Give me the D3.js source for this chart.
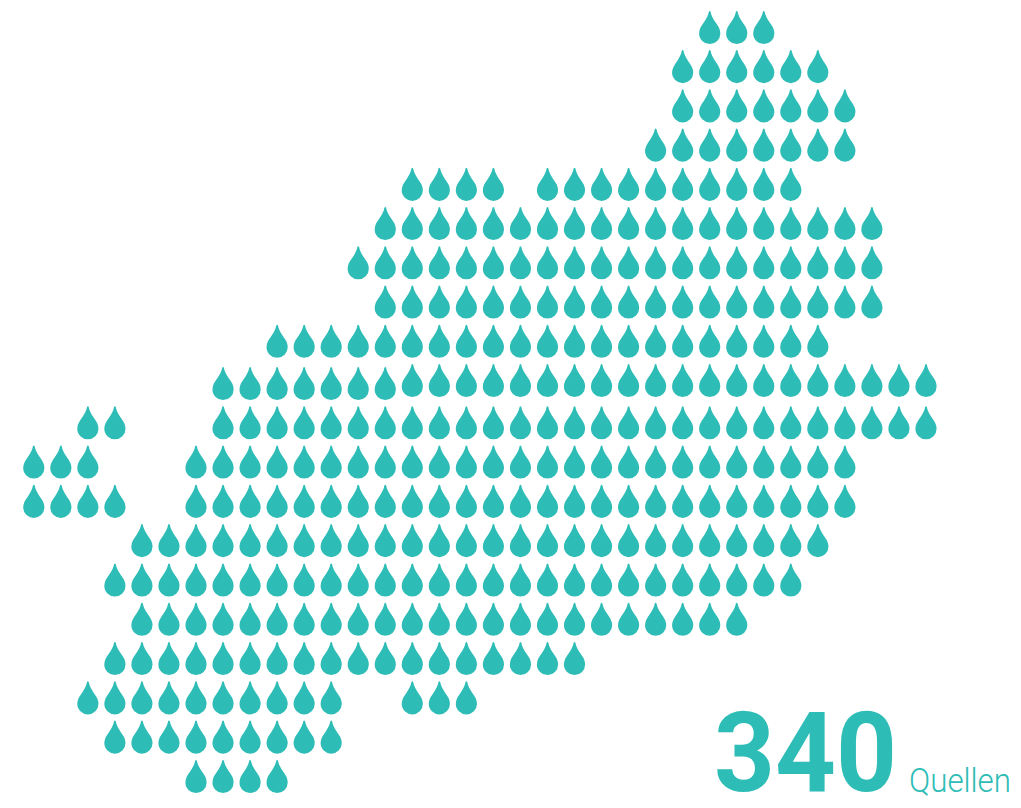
<!DOCTYPE html>
<html>
<head>
<meta charset="utf-8">
<script src="https://cdn.jsdelivr.net/npm/d3@7"></script>
<style>
html, body { margin: 0; padding: 0; background: #fff; }
svg { display: block; }
</style>
</head>
<body>
<svg id="chart" width="1021" height="808"></svg>
<script>
// Each run is one stretch of drops: [row, first column, last column]
const upperRuns = [
    [0, 25, 27],
    [1, 24, 29],
    [2, 24, 30],
    [3, 23, 30],
    [4, 14, 17], [4, 19, 28],
    [5, 13, 31],
    [6, 12, 31],
    [7, 13, 31],
    [8, 9, 29],
    [9, 14, 33]
];

// The lower part of the map sits a little further down than the upper part
const lowerRuns = [
    [9, 7, 13],
    [10, 2, 3], [10, 7, 33],
    [11, 0, 2], [11, 6, 30],
    [12, 0, 3], [12, 6, 30],
    [13, 4, 29],
    [14, 3, 28],
    [15, 4, 26],
    [16, 3, 20],
    [17, 2, 11], [17, 14, 16],
    [18, 3, 11],
    [19, 6, 9]
];

const totalValue = "340";
const totalLabel = "Quellen";
const teal = "#2ebdb6";

const x = d3.scaleLinear().domain([0, 33]).range([33.8, 926]);
const yUpper = d3.scaleLinear().domain([0, 9]).range([44, 397]);
const yLower = d3.scaleLinear().domain([9, 19]).range([400, 793]);

// Drop outline, origin at the middle of the bottom edge
const dropPath = "M-0.8,-32.6 Q0,-33.6 0.8,-32.6 C1.6,-28.5 3.2,-25.5 5.6,-22 " +
    "C8.6,-18 10.6,-14.8 10.6,-10.6 A10.6,10.6 0 0 1 -10.6,-10.6 " +
    "C-10.6,-14.8 -8.6,-18 -5.6,-22 C-3.2,-25.5 -1.6,-28.5 -0.8,-32.6 Z";

function expandRuns(runs, y) {
    const drops = [];
    runs.forEach(([row, first, last]) => {
        d3.range(first, last + 1).forEach(col => {
            drops.push({px: x(col), py: y(row)});
        });
    });
    return drops;
}

const svg = d3.select("#chart");
const drops = expandRuns(upperRuns, yUpper).concat(expandRuns(lowerRuns, yLower));

svg.append("g")
    .selectAll("path")
    .data(drops)
    .enter()
    .append("path")
    .attr("d", dropPath)
    .attr("fill", teal)
    .attr("transform", d => `translate(${d.px},${d.py})`);

svg.append("text")
    .attr("x", 714)
    .attr("y", 791)
    .attr("font-family", "Roboto, sans-serif")
    .attr("font-weight", 700)
    .attr("font-size", 112)
    .attr("textLength", 183)
    .attr("lengthAdjust", "spacingAndGlyphs")
    .attr("fill", teal)
    .text(totalValue);

svg.append("text")
    .attr("x", 909)
    .attr("y", 791.5)
    .attr("font-family", "Roboto, sans-serif")
    .attr("font-weight", 300)
    .attr("font-size", 33)
    .attr("textLength", 102)
    .attr("lengthAdjust", "spacingAndGlyphs")
    .attr("fill", teal)
    .text(totalLabel);
</script>
</body>
</html>
